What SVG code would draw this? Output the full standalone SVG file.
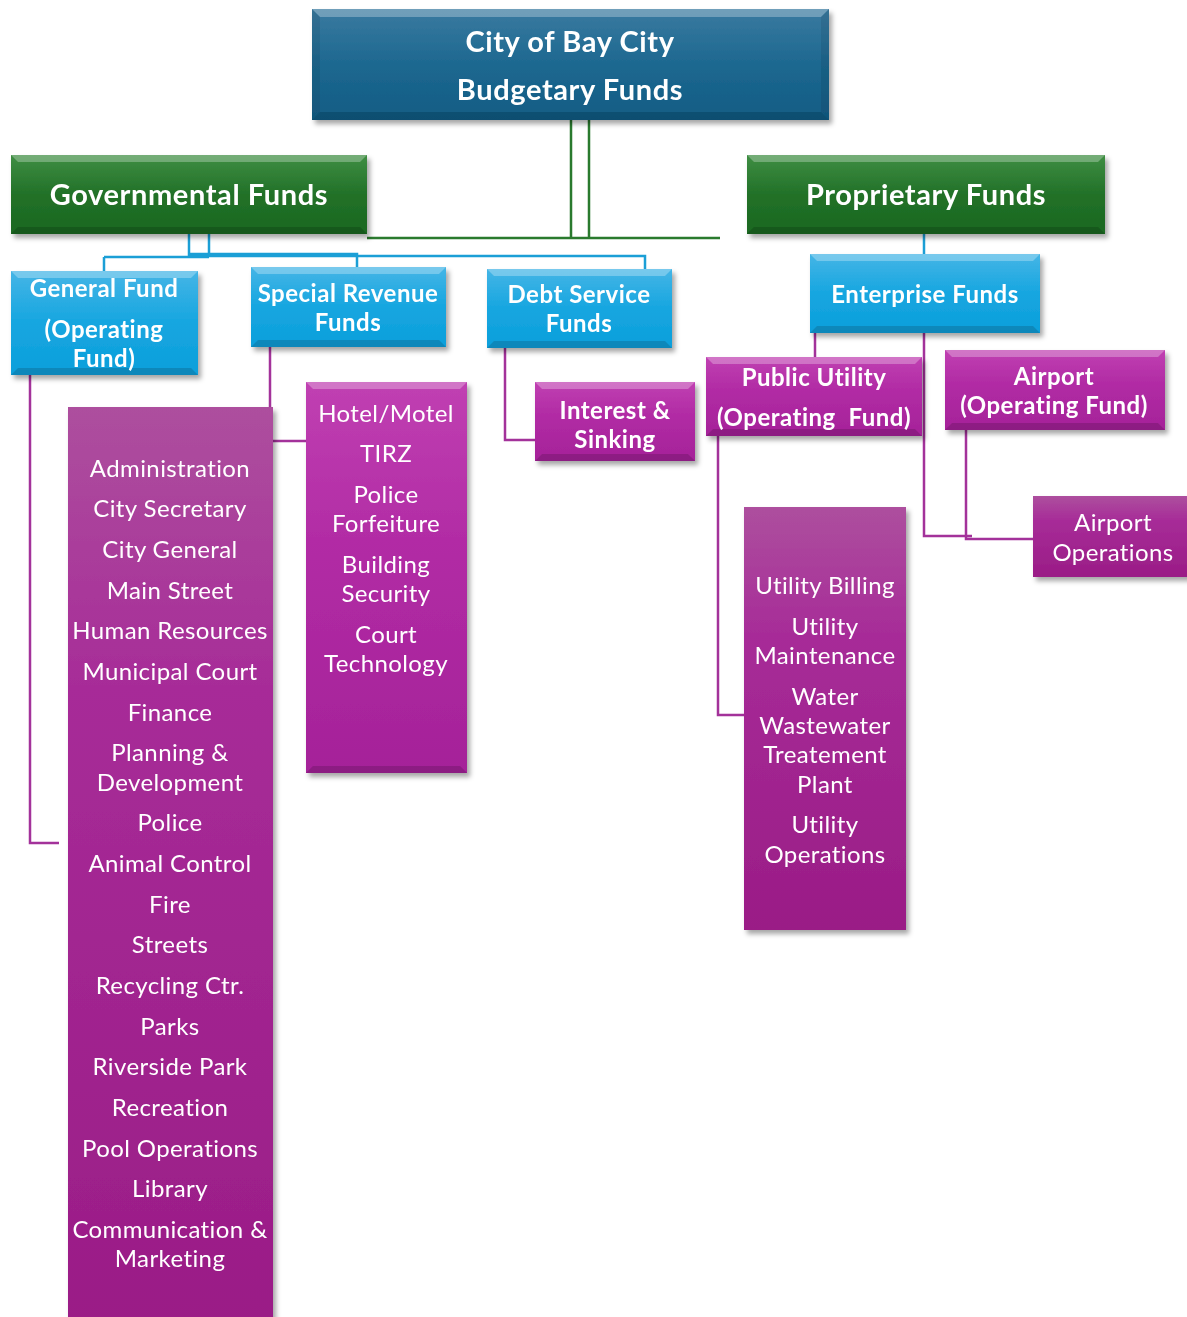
<svg xmlns="http://www.w3.org/2000/svg" width="1187" height="1317" viewBox="0 0 1187 1317">
<defs>
  <linearGradient id="gTop" x1="0" y1="0" x2="0" y2="1">
    <stop offset="0" stop-color="#3a7aa0"/><stop offset="0.5" stop-color="#1d6890"/><stop offset="1" stop-color="#125c84"/>
  </linearGradient>
  <linearGradient id="gGreen" x1="0" y1="0" x2="0" y2="1">
    <stop offset="0" stop-color="#3f8e43"/><stop offset="0.5" stop-color="#227128"/><stop offset="1" stop-color="#1a6820"/>
  </linearGradient>
  <linearGradient id="gBlue" x1="0" y1="0" x2="0" y2="1">
    <stop offset="0" stop-color="#45b5e6"/><stop offset="0.5" stop-color="#16a6e0"/><stop offset="1" stop-color="#0c9fdb"/>
  </linearGradient>
  <linearGradient id="gMag" x1="0" y1="0" x2="0" y2="1">
    <stop offset="0" stop-color="#c040b2"/><stop offset="0.4" stop-color="#b22ca5"/><stop offset="1" stop-color="#a52299"/>
  </linearGradient>
  <linearGradient id="gList" x1="0" y1="0" x2="0" y2="1">
    <stop offset="0" stop-color="#ad4f9e"/><stop offset="0.3" stop-color="#a72c98"/><stop offset="1" stop-color="#9a1c86"/>
  </linearGradient>
  <filter id="sh" x="-10%" y="-10%" width="125%" height="125%">
    <feDropShadow dx="3" dy="4" stdDeviation="2.5" flood-color="#000" flood-opacity="0.35"/>
  </filter>
  <style>
    .t { font-family: Lato, "Open Sans", "Liberation Sans", sans-serif; fill: #ffffff; text-anchor: middle; dominant-baseline: central; }
    .b28 { font-size: 29px; font-weight: bold; letter-spacing: 0.6px; }
    .b22 { font-size: 24px; font-weight: bold; letter-spacing: 0.5px; }
    .r22 { font-size: 24px; font-weight: normal; letter-spacing: 0.4px; }
    .hi { fill: #ffffff; opacity: 0.28; }
    .lo { fill: #000000; opacity: 0.15; }
    .sd { fill: #000000; opacity: 0.08; }
    .cg { stroke: #2a7a2e; stroke-width: 2.5; fill: none; }
    .cb { stroke: #1b9fd6; stroke-width: 2.5; fill: none; }
    .cp { stroke: #a3329a; stroke-width: 2.5; fill: none; }
  </style>
</defs>
<rect width="1187" height="1317" fill="#ffffff"/>

<g id="connectors">
  <path class="cg" d="M571,120 V238 M589,120 V238 M367,238 H720"/>
  <path class="cb" d="M189,234 V257 M209,234 V257 M104,257 H209 M104,257 V272 M189,254 H357 V268 M209,256 H645 V270 M924,234 V254"/>
  <path class="cb" d="M189,255.5 H209" stroke-width="4"/>
  <path class="cp" d="M30,375 V843 H59"/>
  <path class="cp" d="M270,347 V408 M273,441 H306"/>
  <path class="cp" d="M505,348 V440 H535"/>
  <path class="cp" d="M815,333 V357 M924,333 V536 H972 M966,430 V539 H1033"/>
  <path class="cp" d="M718,436 V715 H744"/>
</g>

<g id="n-top" filter="url(#sh)">
  <rect x="312" y="9" width="517" height="111" fill="url(#gTop)"/>
  <polygon class="hi" points="312,9 829,9 821,17 320,17"/>
  <polygon class="lo" points="312,120 829,120 821,112 320,112"/>
  <polygon class="sd" points="312,9 320,17 320,112 312,120"/>
  <polygon class="sd" points="829,9 821,17 821,112 829,120"/>
  <text class="t b28" x="570" y="40">City of Bay City</text>
  <text class="t b28" x="570" y="88">Budgetary Funds</text>
</g>

<g id="n-gov" filter="url(#sh)">
  <rect x="11" y="155" width="356" height="79" fill="url(#gGreen)"/>
  <polygon class="hi" points="11,155 367,155 360,162 18,162"/>
  <polygon class="lo" points="11,234 367,234 360,227 18,227"/>
  <text class="t b28" x="189" y="193">Governmental Funds</text>
</g>

<g id="n-prop" filter="url(#sh)">
  <rect x="747" y="155" width="358" height="79" fill="url(#gGreen)"/>
  <polygon class="hi" points="747,155 1105,155 1098,162 754,162"/>
  <polygon class="lo" points="747,234 1105,234 1098,227 754,227"/>
  <text class="t b28" x="926" y="193">Proprietary Funds</text>
</g>

<g id="n-genfund" filter="url(#sh)">
  <rect x="11" y="271" width="187" height="104" fill="url(#gBlue)"/>
  <polygon class="hi" points="11,271 198,271 191,278 18,278"/>
  <polygon class="lo" points="11,375 198,375 191,368 18,368"/>
  <text class="t b22" x="104" y="287">General Fund</text>
  <text class="t b22" x="104" y="328">(Operating</text>
  <text class="t b22" x="104" y="357">Fund)</text>
</g>

<g id="n-specrev" filter="url(#sh)">
  <rect x="251" y="267" width="195" height="80" fill="url(#gBlue)"/>
  <polygon class="hi" points="251,267 446,267 439,274 258,274"/>
  <polygon class="lo" points="251,347 446,347 439,340 258,340"/>
  <text class="t b22" x="348" y="292">Special Revenue</text>
  <text class="t b22" x="348" y="321">Funds</text>
</g>

<g id="n-debt" filter="url(#sh)">
  <rect x="487" y="269" width="185" height="79" fill="url(#gBlue)"/>
  <polygon class="hi" points="487,269 672,269 665,276 494,276"/>
  <polygon class="lo" points="487,348 672,348 665,341 494,341"/>
  <text class="t b22" x="579" y="293">Debt Service</text>
  <text class="t b22" x="579" y="322">Funds</text>
</g>

<g id="n-enterprise" filter="url(#sh)">
  <rect x="810" y="254" width="230" height="79" fill="url(#gBlue)"/>
  <polygon class="hi" points="810,254 1040,254 1033,261 817,261"/>
  <polygon class="lo" points="810,333 1040,333 1033,326 817,326"/>
  <text class="t b22" x="925" y="293">Enterprise Funds</text>
</g>

<g id="n-pubutil" filter="url(#sh)">
  <rect x="706" y="357" width="216" height="79" fill="url(#gMag)"/>
  <polygon class="hi" points="706,357 922,357 915,364 713,364"/>
  <polygon class="lo" points="706,436 922,436 915,429 713,429"/>
  <text class="t b22" x="814" y="376">Public Utility</text>
  <text class="t b22" x="814" y="416" xml:space="preserve">(Operating  Fund)</text>
</g>

<g id="n-airportfund" filter="url(#sh)">
  <rect x="945" y="350" width="220" height="80" fill="url(#gMag)"/>
  <polygon class="hi" points="945,350 1165,350 1158,357 952,357"/>
  <polygon class="lo" points="945,430 1165,430 1158,423 952,423"/>
  <text class="t b22" x="1054" y="375">Airport</text>
  <text class="t b22" x="1054" y="404">(Operating Fund)</text>
</g>

<g id="n-interest" filter="url(#sh)">
  <rect x="535" y="382" width="160" height="79" fill="url(#gMag)"/>
  <polygon class="hi" points="535,382 695,382 688,389 542,389"/>
  <polygon class="lo" points="535,461 695,461 688,454 542,454"/>
  <text class="t b22" x="615" y="409">Interest &amp;</text>
  <text class="t b22" x="615" y="438">Sinking</text>
</g>

<g id="n-hotel" filter="url(#sh)">
  <rect x="306" y="382" width="161" height="391" fill="url(#gMag)"/>
  <polygon class="hi" points="306,382 467,382 460,389 313,389"/>
  <polygon class="lo" points="306,773 467,773 460,766 313,766"/>
  <text class="t r22" x="386" y="412">Hotel/Motel</text>
  <text class="t r22" x="386" y="452">TIRZ</text>
  <text class="t r22" x="386" y="493">Police</text>
  <text class="t r22" x="386" y="522">Forfeiture</text>
  <text class="t r22" x="386" y="563">Building</text>
  <text class="t r22" x="386" y="592">Security</text>
  <text class="t r22" x="386" y="633">Court</text>
  <text class="t r22" x="386" y="662">Technology</text>
</g>

<g id="n-genlist" filter="url(#sh)">
  <rect x="68" y="407" width="205" height="930" fill="url(#gList)"/>
  <text class="t r22" x="170" y="467">Administration</text>
  <text class="t r22" x="170" y="507">City Secretary</text>
  <text class="t r22" x="170" y="548">City General</text>
  <text class="t r22" x="170" y="589">Main Street</text>
  <text class="t r22" x="170" y="629">Human Resources</text>
  <text class="t r22" x="170" y="670">Municipal Court</text>
  <text class="t r22" x="170" y="711">Finance</text>
  <text class="t r22" x="170" y="751">Planning &amp;</text>
  <text class="t r22" x="170" y="781">Development</text>
  <text class="t r22" x="170" y="821">Police</text>
  <text class="t r22" x="170" y="862">Animal Control</text>
  <text class="t r22" x="170" y="903">Fire</text>
  <text class="t r22" x="170" y="943">Streets</text>
  <text class="t r22" x="170" y="984">Recycling Ctr.</text>
  <text class="t r22" x="170" y="1025">Parks</text>
  <text class="t r22" x="170" y="1065">Riverside Park</text>
  <text class="t r22" x="170" y="1106">Recreation</text>
  <text class="t r22" x="170" y="1147">Pool Operations</text>
  <text class="t r22" x="170" y="1187">Library</text>
  <text class="t r22" x="170" y="1228">Communication &amp;</text>
  <text class="t r22" x="170" y="1257">Marketing</text>
</g>

<g id="n-utillist" filter="url(#sh)">
  <rect x="744" y="507" width="162" height="423" fill="url(#gList)"/>
  <text class="t r22" x="825" y="584">Utility Billing</text>
  <text class="t r22" x="825" y="625">Utility</text>
  <text class="t r22" x="825" y="654">Maintenance</text>
  <text class="t r22" x="825" y="695">Water</text>
  <text class="t r22" x="825" y="724">Wastewater</text>
  <text class="t r22" x="825" y="753">Treatement</text>
  <text class="t r22" x="825" y="783">Plant</text>
  <text class="t r22" x="825" y="823">Utility</text>
  <text class="t r22" x="825" y="853">Operations</text>
</g>

<g id="n-airportops" filter="url(#sh)">
  <rect x="1033" y="496" width="170" height="81" fill="url(#gList)"/>
  <text class="t r22" x="1113" y="521">Airport</text>
  <text class="t r22" x="1113" y="551">Operations</text>
</g>
</svg>
